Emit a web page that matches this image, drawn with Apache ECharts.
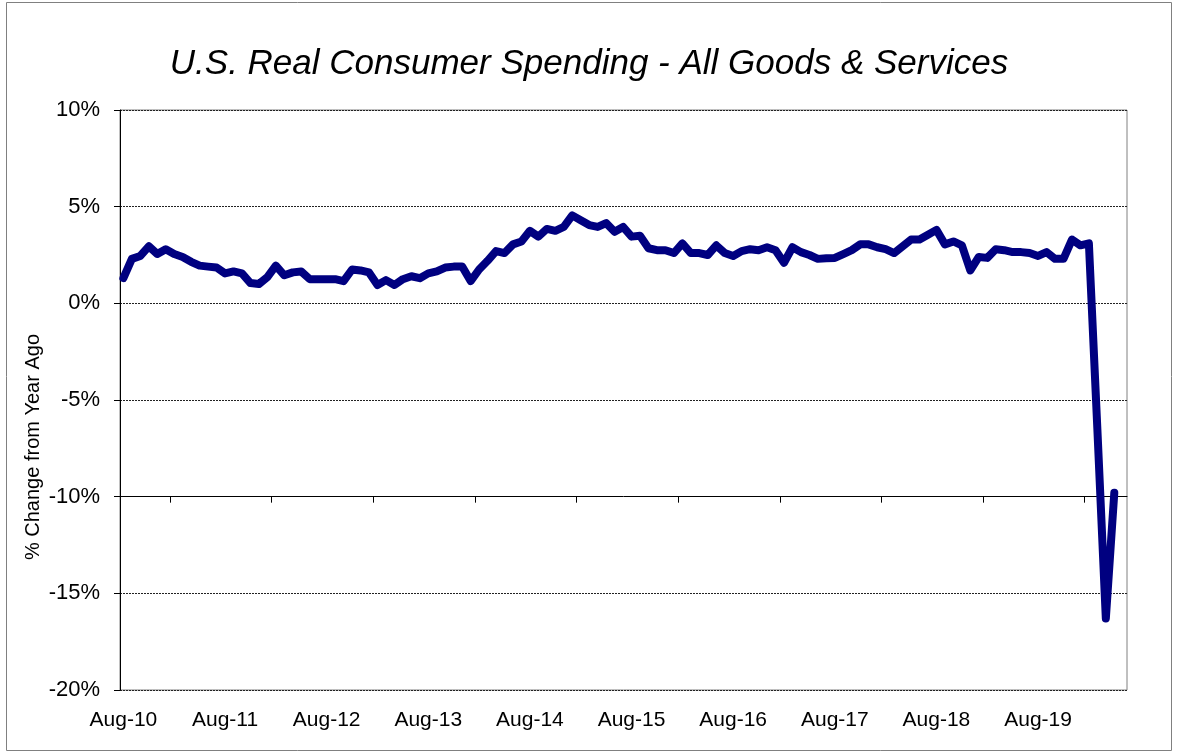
<!DOCTYPE html>
<html>
<head>
<meta charset="utf-8">
<title>U.S. Real Consumer Spending - All Goods & Services</title>
<script src="https://cdn.jsdelivr.net/npm/echarts@6/dist/echarts.min.js"></script>
<style>
html, body { margin: 0; padding: 0; background: #fff; }
#main { width: 1178px; height: 756px; }
</style>
</head>
<body>
<div id="main"></div>
<script>
// monthly, Aug-10 .. May-20, % change from year ago
var spending = [
  1.3, 2.3, 2.45, 2.95, 2.55, 2.8, 2.55, 2.4, 2.15, 1.95, 1.9, 1.85,
  1.55, 1.65, 1.55, 1.05, 1.0, 1.35, 1.95, 1.45, 1.6, 1.65, 1.25, 1.25,
  1.25, 1.25, 1.15, 1.75, 1.7, 1.6, 0.95, 1.2, 0.95, 1.25, 1.4, 1.3,
  1.55, 1.65, 1.85, 1.9, 1.9, 1.15, 1.75, 2.2, 2.7, 2.6, 3.05, 3.2,
  3.75, 3.45, 3.85, 3.75, 3.95, 4.55, 4.3, 4.05, 3.95, 4.15, 3.7, 3.95,
  3.45, 3.5, 2.85, 2.75, 2.75, 2.6, 3.1, 2.6, 2.6, 2.5, 3.0, 2.6,
  2.45, 2.7, 2.8, 2.75, 2.9, 2.75, 2.1, 2.9, 2.65, 2.5, 2.3, 2.33,
  2.35, 2.55, 2.75, 3.05, 3.05, 2.9, 2.8, 2.6, 2.95, 3.3, 3.3, 3.55,
  3.8, 3.05, 3.2, 3.0, 1.7, 2.4, 2.35, 2.8, 2.75, 2.65, 2.65, 2.6,
  2.45, 2.65, 2.3, 2.3, 3.3, 3.0, 3.1, -6.5, -16.3, -9.8
];
var tickLabels = ['Aug-10', 'Aug-11', 'Aug-12', 'Aug-13', 'Aug-14',
                  'Aug-15', 'Aug-16', 'Aug-17', 'Aug-18', 'Aug-19'];

var FONT = 'Liberation Sans, Arial, sans-serif';
var X_MIN = -0.4, X_MAX = 118.5;

var points = spending.map(function (v, i) { return [i, v]; });
var labelPos = tickLabels.map(function (t, k) { return k * 12; });
var tickPos = tickLabels.map(function (t, k) { return k * 12 + 5.5; });

var myChart = echarts.init(document.getElementById('main'));

myChart.setOption({
  animation: false,
  title: {
    text: 'U.S. Real Consumer Spending - All Goods & Services',
    left: 'center',
    top: 42,
    textStyle: {
      fontFamily: FONT,
      fontStyle: 'italic',
      fontWeight: 'normal',
      fontSize: 35,
      color: '#000'
    }
  },
  grid: {
    left: 120, right: 51, top: 110, bottom: 66,
    show: true,
    borderColor: '#808080',
    borderWidth: 1
  },
  xAxis: [
    {
      type: 'value',
      min: X_MIN, max: X_MAX,
      position: 'bottom',
      axisLine: { show: false, onZero: false },
      axisTick: { show: false },
      splitLine: { show: false },
      axisLabel: {
        customValues: labelPos,
        formatter: function (v) { return tickLabels[Math.round(v / 12)]; },
        fontFamily: FONT,
        fontSize: 21,
        color: '#000',
        margin: 20
      }
    },
    {
      // category line crossing at -10%
      type: 'value',
      min: X_MIN, max: X_MAX,
      position: 'top',
      offset: -386.67,
      axisLine: { show: true, onZero: false, lineStyle: { color: '#000', width: 1 } },
      axisTick: { show: true, customValues: tickPos, inside: true, length: 6, lineStyle: { color: '#000' } },
      axisLabel: { show: false },
      splitLine: { show: false }
    }
  ],
  yAxis: {
    type: 'value',
    min: -20, max: 10, interval: 5,
    axisLine: { show: true, onZero: false, lineStyle: { color: '#000' } },
    axisTick: { show: true, length: 6, lineStyle: { color: '#000' } },
    axisLabel: {
      formatter: '{value}%',
      fontFamily: FONT,
      fontSize: 22,
      color: '#000',
      margin: 20
    },
    splitLine: { show: true, lineStyle: { color: '#222', type: [2, 1], width: 1 } }
  },
  graphic: [
    {
      type: 'rect',
      silent: true,
      z: -10,
      shape: { x: 6.5, y: 2.5, width: 1165, height: 748 },
      style: { fill: 'none', stroke: '#808080', lineWidth: 1 }
    },
    {
      type: 'text',
      x: 33, y: 447,
      rotation: Math.PI / 2,
      style: {
        text: '% Change from Year Ago',
        fontFamily: FONT,
        fontSize: 20,
        fill: '#000',
        align: 'center',
        verticalAlign: 'middle'
      }
    }
  ],
  series: [
    {
      name: 'Real Consumer Spending',
      type: 'line',
      data: points,
      symbol: 'none',
      silent: true,
      lineStyle: { color: '#000080', width: 8, cap: 'round', join: 'round' }
    }
  ]
});
</script>
</body>
</html>
